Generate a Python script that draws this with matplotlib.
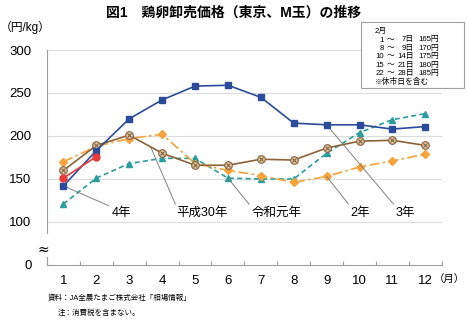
import matplotlib
matplotlib.use("Agg")
import matplotlib.pyplot as plt
import numpy as np

plt.rcParams["font.family"] = ["Liberation Sans", "Noto Sans CJK JP", "DejaVu Sans"]

months = np.arange(1, 13)
month_labels = [str(m) for m in months]

# 鶏卵卸売価格 (円/kg)
h30 = [160, 189, 201, 180, 166, 166, 173, 172, 186, 194, 195, 189]   # 平成30年
r01 = [121, 151, 168, 174, 174, 151, 150, 150, 180, 204, 219, 226]   # 令和元年
r02 = [170, 188, 197, 202, 168, 160, 154, 146, 153, 164, 171, 179]   # 2年
r03 = [142, 183, 220, 242, 258, 259, 245, 215, 213, 213, 208, 211]   # 3年
r04 = [151, 176]                                                     # 4年 (1-2月)

# 2月の旬別価格
feb_start = ["1", "8", "10", "15", "22"]
feb_end = ["7", "9", "14", "21", "28"]
feb_price = [165, 170, 175, 180, 185]

yticks = [50, 100, 150, 200, 250, 300]
ytick_labels = ["0", "100", "150", "200", "250", "300"]

fig = plt.figure(figsize=(4.67, 3.23), dpi=100)
ax = fig.add_axes([0.1006, 0.1796, 0.8454, 0.6656])

grid_c = "#dcdcdc"
spine_c = "#a0a0a0"

ax.plot(months, r01, color="#2a9d9d", lw=1.2, ls=(0, (3, 2)), marker="^", ms=5, zorder=3)
ax.plot(months, r02, color="#f5a33a", lw=1.2, ls=(0, (6, 2, 1.5, 2)), marker="D", ms=4, zorder=3)
ax.plot(months, h30, color="#8c6239", lw=1.2, marker="o", ms=5.5,
        mfc="#d9c8a8", mec="#8c6239", mew=0.8, zorder=4)
ax.plot(months, h30, ls="none", marker="x", ms=3.5, color="#8c6239", mew=0.8, zorder=5)
ax.plot(months, r03, color="#2b4c9b", lw=1.2, marker="s", ms=4.2, zorder=6)
ax.plot(months[:len(r04)], r04, color="#e83a3a", lw=1.2, marker="o", ms=5, zorder=7)

ax.set_xlim(0.5, 12.5)
ax.set_ylim(50, 300)
ax.set_yticks(yticks)
ax.set_yticklabels(ytick_labels)
ax.set_xticks(months)
ax.set_xticklabels(month_labels)
ax.set_xticks(np.arange(0.5, 13, 1), minor=True)
ax.tick_params(axis="y", length=0, pad=11, labelsize=9.5)
ax.tick_params(axis="x", which="major", length=0, pad=7, labelsize=9.5)
ax.tick_params(axis="x", which="minor", direction="in", length=3, color=spine_c, width=0.8)

for v in yticks[1:]:
    ax.axhline(v, color=grid_c, lw=0.8, zorder=1)

for s in ["top", "right"]:
    ax.spines[s].set_visible(False)
for s in ["left", "bottom"]:
    ax.spines[s].set_color(spine_c)
    ax.spines[s].set_linewidth(0.8)
ax.spines["left"].set_bounds(87, 300)
ax.plot([0.5, 0.5], [50, 59], color=spine_c, lw=0.8, clip_on=False, zorder=2)
ax.text(-0.01, 0.07, "≈", transform=ax.transAxes, ha="center", va="center",
        fontsize=10, family=["DejaVu Sans"])

# 系列ラベルと引出し線
leader = dict(arrowstyle="-", color="#808080", lw=0.7, relpos=(0.0, 1.0),
              shrinkA=0, shrinkB=0)
ax.annotate("4年", xy=(1, r03[0]), xytext=(2.76, 110.5), ha="center", va="center",
            fontsize=9, arrowprops=leader)
ax.annotate("平成30年", xy=(3.65, np.interp(3.65, months, h30)), xytext=(5.22, 110.5),
            ha="center", va="center", fontsize=9, arrowprops=leader)
ax.annotate("令和元年", xy=(6, r01[5]), xytext=(7.47, 110.5), ha="center", va="center",
            fontsize=9, arrowprops=leader)
ax.annotate("2年", xy=(9, r02[8]), xytext=(10.03, 110.5), ha="center", va="center",
            fontsize=9, arrowprops=leader)
ax.annotate("3年", xy=(9, r03[8]), xytext=(11.4, 110.5), ha="center", va="center",
            fontsize=9, arrowprops=leader)

fig.text(0.5, 0.962, "図1　鶏卵卸売価格（東京、M玉）の推移", ha="center", va="center",
         fontsize=10, fontweight="bold")
fig.text(0.0, 0.915, "（円/kg）", ha="left", va="center", fontsize=8.5)
fig.text(465 / 467, 0.135, "（月）", ha="right", va="center", fontsize=7.5)

# 2月の価格表
W, H = 467, 323
box = plt.Rectangle((361 / W, 1 - 88 / H), 103 / W, 66 / H, transform=fig.transFigure,
                    facecolor="white", edgecolor="#a0a0a0", lw=0.8, zorder=10)
fig.add_artist(box)
fs = 5.6
fig.text(375 / W, 1 - 31 / H, "2月", fontsize=fs, va="center", zorder=11)
for i in range(len(feb_price)):
    y = 1 - (40 + 8.4 * i) / H
    fig.text(384 / W, y, feb_start[i], fontsize=fs, ha="right", va="center", zorder=11)
    fig.text(391 / W, y, "～", fontsize=fs, ha="center", va="center", zorder=11)
    fig.text(414 / W, y, feb_end[i] + "日", fontsize=fs, ha="right", va="center", zorder=11)
    fig.text(418 / W, y, f"{feb_price[i]}円", fontsize=fs, ha="left", va="center", zorder=11)
fig.text(375 / W, 1 - 82 / H, "※休市日を含む", fontsize=fs, va="center", zorder=11)

fig.text(48 / W, 1 - 298 / H, "資料：JA全農たまご株式会社「相場情報」", fontsize=5.4, va="center")
fig.text(58 / W, 1 - 313 / H, "注：消費税を含まない。", fontsize=5.4, va="center")

fig.savefig("out.png", dpi=100)
